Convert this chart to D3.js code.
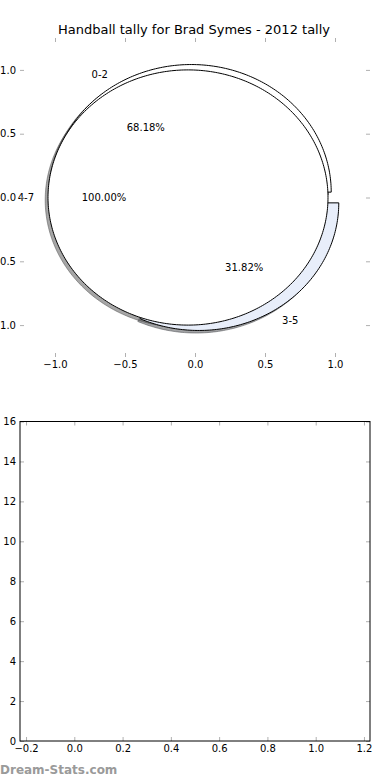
<!DOCTYPE html>
<html>
<head>
<meta charset="utf-8">
<script src="https://cdn.jsdelivr.net/npm/d3@7"></script>
<style>
  body { margin: 0; background: #fff; }
  text { font-family: "DejaVu Sans", sans-serif; fill: #000; }
</style>
</head>
<body>
<svg width="390" height="780"></svg>
<script>
// first pie: age groups of the year
var pieLabels1 = ["0-2", "3-5"];
var pieValues1 = [68.18, 31.82];
// second pie drawn on top of it
var pieLabels2 = ["4-7"];
var pieValues2 = [100];

var pieTicks = [-1.0, -0.5, 0.0, 0.5, 1.0];
var barXTicks = [-0.2, 0.0, 0.2, 0.4, 0.6, 0.8, 1.0, 1.2];
var barYTicks = [0, 2, 4, 6, 8, 10, 12, 14, 16];

var pieColors1 = ["#ffffff", "#e8eefa"];
var pieColors2 = ["#ffffff"];

var svg = d3.select("svg");

var explode = 0.05, shadowOff = -0.02;

// ---- top axes (pie) ----
var x1 = d3.scaleLinear().domain([-1.25, 1.25]).range([20, 370]);
var y1 = d3.scaleLinear().domain([-1.25, 1.25]).range([357, 38]);

var line1 = d3.line()
    .x(function(p) { return x1(p[0]); })
    .y(function(p) { return y1(p[1]); });

function wedges(values, labels, colors) {
  var pie = d3.pie().sort(null).startAngle(0).endAngle(2 * Math.PI);
  return pie(values).map(function(d, i) {
    var mid = (d.startAngle + d.endAngle) / 2;
    return {
      a1: d.startAngle, a2: d.endAngle, mid: mid,
      cx: explode * Math.cos(mid), cy: explode * Math.sin(mid),
      label: labels[i], value: d.value, color: colors[i],
      full: (d.endAngle - d.startAngle) >= 2 * Math.PI - 1e-9
    };
  });
}

function wedgePoints(w, ox, oy) {
  var pts = [];
  var n = Math.max(8, Math.ceil((w.a2 - w.a1) / (2 * Math.PI) * 360));
  if (!w.full) pts.push([w.cx + ox, w.cy + oy]);
  for (var k = 0; k <= n; k++) {
    var a = w.a1 + (w.a2 - w.a1) * k / n;
    pts.push([w.cx + ox + Math.cos(a), w.cy + oy + Math.sin(a)]);
  }
  return pts;
}

var total2 = d3.sum(pieValues2);
var total1 = d3.sum(pieValues1);
var w1 = wedges(pieValues1, pieLabels1, pieColors1);
var w2 = wedges(pieValues2, pieLabels2, pieColors2);
w1.forEach(function(w) { w.pct = w.value / total1 * 100; });
w2.forEach(function(w) { w.pct = w.value / total2 * 100; });
var all = w1.concat(w2);

function shade(w) {
  var c = d3.rgb(w.color);
  return "rgba(" + Math.round(c.r * 0.3) + "," + Math.round(c.g * 0.3) + "," + Math.round(c.b * 0.3) + ",0.5)";
}

var pieG = svg.append("g");

// shadows sit under every wedge
pieG.selectAll(".shadow")
  .data(all)
  .enter()
  .append("path")
  .attr("class", "shadow")
  .attr("d", function(w) { return line1(wedgePoints(w, shadowOff, shadowOff)) + "Z"; })
  .style("fill", shade)
  .style("stroke", shade)
  .style("stroke-width", 1);

pieG.selectAll(".wedge")
  .data(all)
  .enter()
  .append("path")
  .attr("class", "wedge")
  .attr("d", function(w) { return line1(wedgePoints(w, 0, 0)) + "Z"; })
  .style("fill", function(w) { return w.color; })
  .style("stroke", "#000")
  .style("stroke-width", 1);

pieG.selectAll(".lbl")
  .data(all)
  .enter()
  .append("text")
  .attr("class", "lbl")
  .attr("x", function(w) { return x1(w.cx + 1.1 * Math.cos(w.mid)); })
  .attr("y", function(w) { return y1(w.cy + 1.1 * Math.sin(w.mid)); })
  .attr("dy", "0.35em")
  .style("font-size", "10px")
  .style("text-anchor", function(w) { return Math.cos(w.mid) > 0 ? "start" : "end"; })
  .text(function(w) { return w.label; });

pieG.selectAll(".pct")
  .data(all)
  .enter()
  .append("text")
  .attr("class", "pct")
  .attr("x", function(w) { return x1(w.cx + 0.6 * Math.cos(w.mid)); })
  .attr("y", function(w) { return y1(w.cy + 0.6 * Math.sin(w.mid)); })
  .attr("dy", "0.35em")
  .style("font-size", "10px")
  .style("text-anchor", "middle")
  .text(function(w) { return w.pct.toFixed(2) + "%"; });

function styleAxis(g) {
  g.select(".domain").remove();
  g.selectAll(".tick line").style("stroke", "#b0b0b0").style("stroke-width", 1);
  g.selectAll(".tick text").style("font-size", "10px").style("font-family", "DejaVu Sans").style("fill", "#000");
}

var f1 = d3.format(".1f");
svg.append("g").attr("transform", "translate(0,357)")
  .call(d3.axisBottom(x1).tickValues(pieTicks).tickFormat(f1).tickSizeInner(-4).tickSizeOuter(0).tickPadding(4))
  .call(styleAxis);
svg.append("g").attr("transform", "translate(0,38)")
  .call(d3.axisTop(x1).tickValues(pieTicks).tickFormat("").tickSizeInner(-4).tickSizeOuter(0))
  .call(styleAxis);
svg.append("g").attr("transform", "translate(20,0)")
  .call(d3.axisLeft(y1).tickValues(pieTicks).tickFormat(f1).tickSizeInner(-4).tickSizeOuter(0).tickPadding(4))
  .call(styleAxis);
svg.append("g").attr("transform", "translate(370,0)")
  .call(d3.axisRight(y1).tickValues(pieTicks).tickFormat("").tickSizeInner(-4).tickSizeOuter(0))
  .call(styleAxis);

svg.append("text")
  .attr("x", 194)
  .attr("y", 34)
  .style("font-size", "13px")
  .style("text-anchor", "middle")
  .text("Handball tally for Brad Symes - 2012 tally");

// ---- bottom axes (empty) ----
var x2 = d3.scaleLinear().domain([-0.225, 1.225]).range([20, 370]);
var y2 = d3.scaleLinear().domain([0, 16]).range([741, 421.5]);

svg.append("g").attr("transform", "translate(0,741)")
  .call(d3.axisBottom(x2).tickValues(barXTicks).tickFormat(f1).tickSizeInner(-4).tickSizeOuter(0).tickPadding(4))
  .call(styleAxis);
svg.append("g").attr("transform", "translate(0,421.5)")
  .call(d3.axisTop(x2).tickValues(barXTicks).tickFormat("").tickSizeInner(-4).tickSizeOuter(0))
  .call(styleAxis);
svg.append("g").attr("transform", "translate(20,0)")
  .call(d3.axisLeft(y2).tickValues(barYTicks).tickFormat(d3.format("d")).tickSizeInner(-4).tickSizeOuter(0).tickPadding(4))
  .call(styleAxis);
svg.append("g").attr("transform", "translate(370,0)")
  .call(d3.axisRight(y2).tickValues(barYTicks).tickFormat("").tickSizeInner(-4).tickSizeOuter(0))
  .call(styleAxis);

svg.append("rect")
  .attr("x", x2.range()[0])
  .attr("y", y2.range()[1])
  .attr("width", x2.range()[1] - x2.range()[0])
  .attr("height", y2.range()[0] - y2.range()[1])
  .style("fill", "none")
  .style("stroke", "#000")
  .style("stroke-width", 1);

svg.append("text")
  .attr("x", 0)
  .attr("y", 774)
  .style("font-size", "12px")
  .style("font-weight", "bold")
  .style("fill", "#9a9a9a")
  .text("Dream-Stats.com");
</script>
</body>
</html>
